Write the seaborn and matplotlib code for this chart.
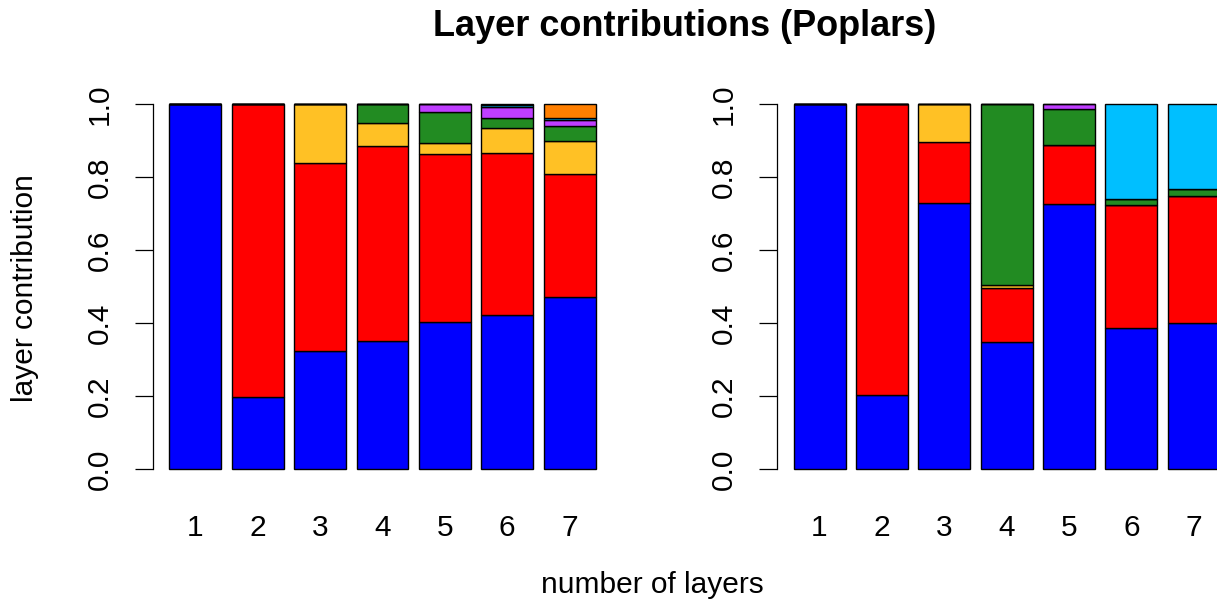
import numpy as np
import pandas as pd
import matplotlib
matplotlib.use("Agg")
import matplotlib.pyplot as plt
import seaborn as sns

# number of layers (x categories)
layers = [1, 2, 3, 4, 5, 6, 7]

# layer components, bottom to top, and their colours
components = ["L1", "L2", "L3", "L4", "L5", "L6", "L7"]
comp_colors = ["#0000FF", "#FF0000", "#FFC125", "#228B22", "#BF3EFF", "#00BFFF", "#FF7F00"]

# left panel: contribution of each component per model size
left_l1 = [1.000, 0.197, 0.322, 0.352, 0.402, 0.423, 0.471]
left_l2 = [0.000, 0.803, 0.516, 0.532, 0.462, 0.444, 0.337]
left_l3 = [0.000, 0.000, 0.162, 0.064, 0.028, 0.068, 0.090]
left_l4 = [0.000, 0.000, 0.000, 0.052, 0.087, 0.026, 0.042]
left_l5 = [0.000, 0.000, 0.000, 0.000, 0.021, 0.031, 0.016]
left_l6 = [0.000, 0.000, 0.000, 0.000, 0.000, 0.004, 0.006]
left_l7 = [0.000, 0.000, 0.000, 0.000, 0.000, 0.004, 0.038]

# right panel
right_l1 = [1.000, 0.203, 0.730, 0.348, 0.726, 0.386, 0.399]
right_l2 = [0.000, 0.797, 0.167, 0.149, 0.163, 0.337, 0.350]
right_l3 = [0.000, 0.000, 0.103, 0.007, 0.000, 0.000, 0.000]
right_l4 = [0.000, 0.000, 0.000, 0.496, 0.096, 0.017, 0.019]
right_l5 = [0.000, 0.000, 0.000, 0.000, 0.015, 0.000, 0.000]
right_l6 = [0.000, 0.000, 0.000, 0.000, 0.000, 0.260, 0.232]
right_l7 = [0.000, 0.000, 0.000, 0.000, 0.000, 0.000, 0.000]


def to_long(columns):
    rows = []
    for comp, vals in zip(components, columns):
        for n, v in zip(layers, vals):
            if v > 0:
                rows.append({"layers": n, "component": comp, "share": v})
    return pd.DataFrame(rows)


left_df = to_long([left_l1, left_l2, left_l3, left_l4, left_l5, left_l6, left_l7])
right_df = to_long([right_l1, right_l2, right_l3, right_l4, right_l5, right_l6, right_l7])

sns.set_style("white")
plt.rcParams["font.family"] = ["Liberation Sans", "DejaVu Sans"]
plt.rcParams["text.color"] = "black"
plt.rcParams["xtick.color"] = "black"
plt.rcParams["ytick.color"] = "black"
plt.rcParams["axes.labelcolor"] = "black"

W, H = 1217, 604
fig = plt.figure(figsize=(W / 100, H / 100), dpi=100)

palette = dict(zip(components, comp_colors))
fs = 21.5


def draw_panel(ax, df):
    # seaborn stacks the last hue level at the bottom
    present = [c for c in components if c in set(df["component"])]
    sns.histplot(data=df, x="layers", weights="share", hue="component",
                 hue_order=present[::-1], multiple="stack", discrete=True,
                 shrink=1 / 1.2, palette=palette, edgecolor="black",
                 linewidth=1.0, alpha=1, legend=False, ax=ax)
    ax.set_xlim(0.314, 7.686)
    ax.set_ylim(-0.04, 1.04)
    ax.set_xlabel("")
    ax.set_ylabel("")
    for s in ["top", "right", "bottom"]:
        ax.spines[s].set_visible(False)
    ax.spines["left"].set_bounds(0, 1)
    ax.spines["left"].set_linewidth(0.9)
    ax.spines["left"].set_color("black")
    ax.set_yticks([0, 0.2, 0.4, 0.6, 0.8, 1.0])
    ax.set_yticklabels(["0.0", "0.2", "0.4", "0.6", "0.8", "1.0"],
                       rotation=90, va="center", fontsize=fs, color="black")
    ax.tick_params(axis="y", direction="out", length=13, width=0.9,
                   color="black", left=True, pad=15)
    ax.set_xticks(layers)
    ax.set_xticklabels([str(n) for n in layers], fontsize=fs, color="black")
    ax.tick_params(axis="x", length=0, pad=22)
    ax.set_facecolor("none")


ax_l = fig.add_axes([152.5 / W, (H - 483.6) / H, 460 / W, (483.6 - 89.4) / H])
ax_r = fig.add_axes([776.7 / W, (H - 483.6) / H, 460 / W, (483.6 - 89.4) / H])
draw_panel(ax_l, left_df)
draw_panel(ax_r, right_df)

fig.text(685 / W, 1 - 27 / H, "Layer contributions (Poplars)",
         ha="center", va="center", fontsize=26, fontweight="bold", color="black")
fig.text(652 / W, 1 - 585 / H, "number of layers",
         ha="center", va="center", fontsize=fs, color="black")
fig.text(25 / W, 1 - 288.5 / H, "layer contribution",
         ha="center", va="center", rotation=90, fontsize=fs, color="black")

fig.savefig("out.png", dpi=100)
